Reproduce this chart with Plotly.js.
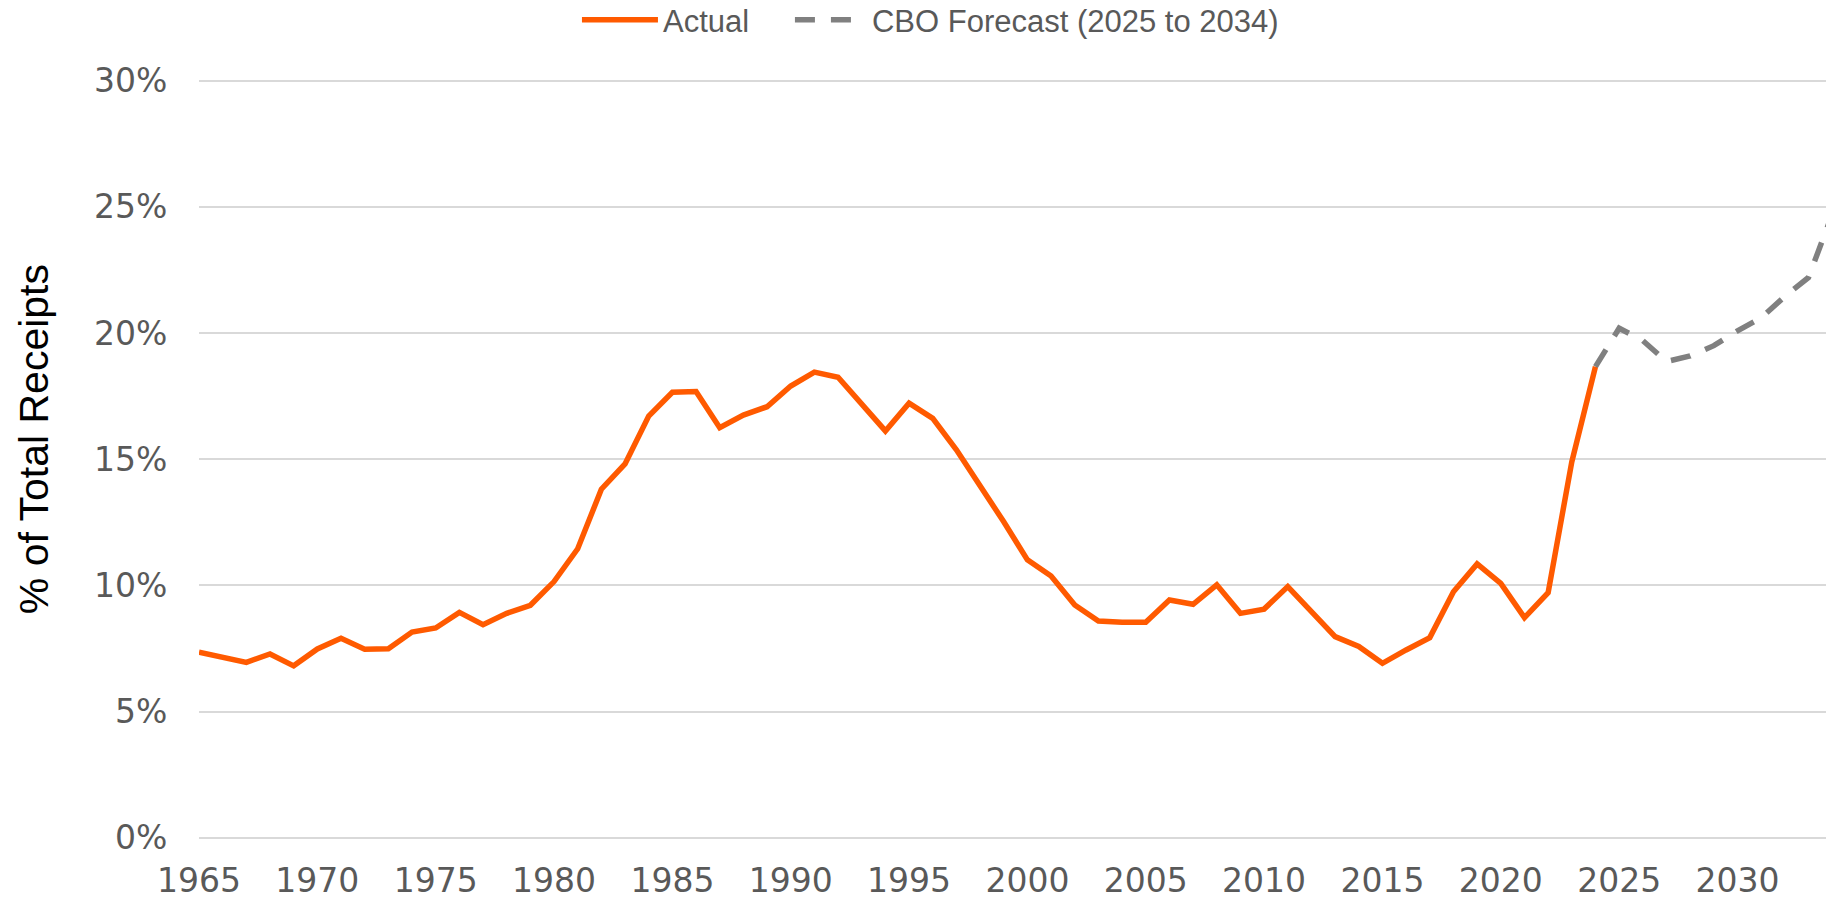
<!DOCTYPE html>
<html>
<head>
<meta charset="utf-8">
<script src="https://cdn.plot.ly/plotly-3.0.1.min.js"></script>
<style>html,body{margin:0;padding:0;background:#fff;}#chart{width:1826px;height:899px;}</style>
</head>
<body>
<div id="chart"></div>
<script>
var actualYears = [1965,1966,1967,1968,1969,1970,1971,1972,1973,1974,1975,1976,1977,1978,1979,1980,1981,1982,1983,1984,1985,1986,1987,1988,1989,1990,1991,1992,1993,1994,1995,1996,1997,1998,1999,2000,2001,2002,2003,2004,2005,2006,2007,2008,2009,2010,2011,2012,2013,2014,2015,2016,2017,2018,2019,2020,2021,2022,2023,2024];
var actualValues = [7.35,7.17,6.95,7.28,6.81,7.48,7.90,7.47,7.49,8.15,8.31,8.93,8.44,8.89,9.21,10.15,11.45,13.81,14.81,16.71,17.65,17.68,16.25,16.75,17.08,17.90,18.45,18.25,17.2,16.12,17.22,16.62,15.37,13.98,12.52,11.01,10.37,9.22,8.59,8.54,8.54,9.42,9.25,10.02,8.89,9.06,9.95,8.96,7.97,7.58,6.91,7.44,7.93,9.75,10.85,10.08,8.72,9.71,14.9,18.67];
var forecastYears = [2024,2025,2026,2027,2028,2029,2030,2031,2032,2033,2034];
var forecastValues = [18.67,20.19,19.7,18.87,19.09,19.5,20.09,20.6,21.45,22.2,24.7];
var xTickVals = [1965,1970,1975,1980,1985,1990,1995,2000,2005,2010,2015,2020,2025,2030];
var xTickText = ["1965","1970","1975","1980","1985","1990","1995","2000","2005","2010","2015","2020","2025","2030"];
var yTickVals = [0,5,10,15,20,25,30];
var yTickText = ["0%","5%","10%","15%","20%","25%","30%"];
var seriesNames = ["Actual","CBO Forecast (2025 to 2034)"];
var yTitle = "% of Total Receipts";

var traces = [
  {x: actualYears, y: actualValues, name: seriesNames[0], type: 'scatter', mode: 'lines',
   line: {color: '#FF5A00', width: 5.5}, legend: 'legend'},
  {x: forecastYears, y: forecastValues, name: seriesNames[1], type: 'scatter', mode: 'lines',
   line: {color: '#808080', width: 5.5, dash: '20px,16px'}, legend: 'legend2'}
];

var legendFont = {family: 'Liberation Sans', size: 31, color: '#595959'};

var layout = {
  width: 1826, height: 899,
  margin: {l: 199, r: 0, t: 78, b: 60, pad: 0, autoexpand: false},
  paper_bgcolor: '#ffffff', plot_bgcolor: '#ffffff',
  showlegend: true,
  legend: {orientation: 'h', x: 0.2323, xanchor: 'left', y: 1.0762, yanchor: 'middle',
    font: legendFont, itemwidth: 76, bgcolor: 'rgba(0,0,0,0)'},
  legend2: {orientation: 'h', x: 0.3632, xanchor: 'left', y: 1.0762, yanchor: 'middle',
    font: legendFont, itemwidth: 72, bgcolor: 'rgba(0,0,0,0)'},
  xaxis: {range: [1965, 2033.74], tickmode: 'array', tickvals: xTickVals, ticktext: xTickText,
    showgrid: false, zeroline: false, showline: false,
    ticks: 'outside', ticklen: 12, tickcolor: 'rgba(0,0,0,0)',
    tickfont: {family: 'DejaVu Sans', size: 33, color: '#595959'}},
  yaxis: {range: [-0.0515, 30.107], tickmode: 'array', tickvals: yTickVals, ticktext: yTickText,
    showgrid: true, gridcolor: '#D9D9D9', gridwidth: 2,
    zeroline: true, zerolinecolor: '#D9D9D9', zerolinewidth: 2, showline: false,
    ticks: 'outside', ticklen: 24, tickcolor: 'rgba(0,0,0,0)',
    tickfont: {family: 'DejaVu Sans', size: 33, color: '#595959'},
    title: {text: ''}},
  annotations: [{
    text: yTitle, xref: 'paper', yref: 'paper', x: -0.1014, y: 0.5254,
    xanchor: 'center', yanchor: 'middle', textangle: -90, showarrow: false,
    font: {family: 'Liberation Sans', size: 41, color: '#000000'}
  }]
};

Plotly.newPlot('chart', traces, layout, {displayModeBar: false, staticPlot: true});
</script>
</body>
</html>
